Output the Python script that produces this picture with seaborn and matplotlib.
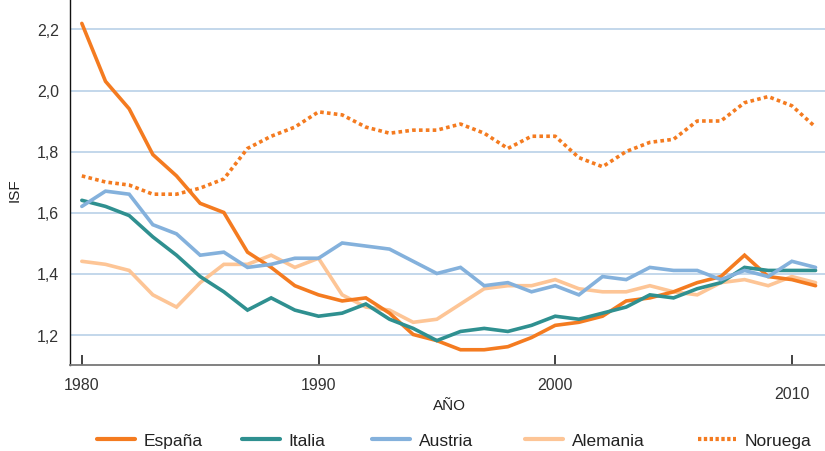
import numpy as np
import pandas as pd
import matplotlib
matplotlib.use("Agg")
import matplotlib.pyplot as plt
import matplotlib.transforms as mtransforms
from matplotlib.lines import Line2D
from matplotlib.ticker import FuncFormatter
import seaborn as sns

years = list(range(1980, 2012))
espana = [2.22, 2.03, 1.94, 1.79, 1.72, 1.63, 1.60, 1.47, 1.42, 1.36, 1.33, 1.31, 1.32, 1.27, 1.20, 1.18,
          1.15, 1.15, 1.16, 1.19, 1.23, 1.24, 1.26, 1.31, 1.32, 1.34, 1.37, 1.39, 1.46, 1.39, 1.38, 1.36]
italia = [1.64, 1.62, 1.59, 1.52, 1.46, 1.39, 1.34, 1.28, 1.32, 1.28, 1.26, 1.27, 1.30, 1.25, 1.22, 1.18,
          1.21, 1.22, 1.21, 1.23, 1.26, 1.25, 1.27, 1.29, 1.33, 1.32, 1.35, 1.37, 1.42, 1.41, 1.41, 1.41]
austria = [1.62, 1.67, 1.66, 1.56, 1.53, 1.46, 1.47, 1.42, 1.43, 1.45, 1.45, 1.50, 1.49, 1.48, 1.44, 1.40,
           1.42, 1.36, 1.37, 1.34, 1.36, 1.33, 1.39, 1.38, 1.42, 1.41, 1.41, 1.38, 1.41, 1.39, 1.44, 1.42]
alemania = [1.44, 1.43, 1.41, 1.33, 1.29, 1.37, 1.43, 1.43, 1.46, 1.42, 1.45, 1.33, 1.29, 1.28, 1.24, 1.25,
            1.30, 1.35, 1.36, 1.36, 1.38, 1.35, 1.34, 1.34, 1.36, 1.34, 1.33, 1.37, 1.38, 1.36, 1.39, 1.37]
noruega = [1.72, 1.70, 1.69, 1.66, 1.66, 1.68, 1.71, 1.81, 1.85, 1.88, 1.93, 1.92, 1.88, 1.86, 1.87, 1.87,
           1.89, 1.86, 1.81, 1.85, 1.85, 1.78, 1.75, 1.80, 1.83, 1.84, 1.90, 1.90, 1.96, 1.98, 1.95, 1.88]

countries = ["España", "Italia", "Austria", "Alemania", "Noruega"]
series = [espana, italia, austria, alemania, noruega]
colors = {"España": "#F47B20", "Italia": "#2F9090", "Austria": "#84B1DC",
          "Alemania": "#FDC596", "Noruega": "#F47B20"}
dashes = {"España": "", "Italia": "", "Austria": "", "Alemania": "", "Noruega": (1.0, 0.9)}

df = pd.concat([pd.DataFrame({"AÑO": years, "ISF": s, "País": c}) for c, s in zip(countries, series)],
               ignore_index=True)

sns.set_theme(style="white")
plt.rcParams["font.family"] = ["Liberation Sans", "DejaVu Sans"]

fig = plt.figure(figsize=(8.25, 4.52), dpi=100)
ax = fig.add_axes([70 / 825, 1 - 366 / 452, 1 - 70 / 825, 366 / 452])

for c in countries:
    sub = df[df["País"] == c]
    sns.lineplot(data=sub, x="AÑO", y="ISF", color=colors[c], linewidth=2.6, ax=ax,
                 dashes=False, legend=False, zorder=3 if c != "Alemania" else 2.5)
    ln = ax.get_lines()[-1]
    if c == "Noruega":
        ln.set_dashes(dashes[c])
        ln.set_dash_capstyle("butt")
    ln.set_solid_joinstyle("miter")

ax.set_xlim(1979.5, 2011.4)
ax.set_ylim(1.1, 2.3)
ax.set_yticks([1.2, 1.4, 1.6, 1.8, 2.0, 2.2])
ax.yaxis.set_major_formatter(FuncFormatter(lambda v, p: f"{v:.1f}".replace(".", ",")))
ax.set_xticks([1980, 1990, 2000, 2010])
ax.grid(axis="y", color="#B9D1E8", linewidth=1.2, zorder=0)
ax.grid(axis="x", visible=False)
ax.set_axisbelow(True)

for s in ["top", "right"]:
    ax.spines[s].set_visible(False)
ax.spines["left"].set_color("#111111")
ax.spines["left"].set_linewidth(1.0)
ax.spines["bottom"].set_color("#777777")
ax.spines["bottom"].set_linewidth(1.3)

ax.tick_params(axis="x", direction="in", length=7, width=1.2, color="#222222",
               labelsize=11.5, labelcolor="#333333", pad=9, bottom=True)
ax.tick_params(axis="y", length=0, labelsize=11.5, labelcolor="#333333", pad=8, left=False)

ax.set_xlabel("AÑO", fontsize=11, color="#222222")
ax.xaxis.set_label_coords(0.503, -0.09)
ax.set_ylabel("ISF", fontsize=11, color="#222222")
ax.yaxis.set_label_coords(-0.064, 0.48)

# 2010 label sits a little lower in the reference
lab = ax.get_xticklabels()[3]
lab.set_transform(lab.get_transform() + mtransforms.ScaledTranslation(0, -6 / 72, fig.dpi_scale_trans))

# legend: one entry per small legend, placed like the reference
starts = [97, 242, 372, 525, 698]
for c, x0 in zip(countries, starts):
    h = Line2D([0], [0], color=colors[c], linewidth=3)
    if c == "Noruega":
        h.set_dashes((0.8, 0.6))
        h.set_dash_capstyle("butt")
    leg = fig.legend([h], [c], loc="center left", bbox_to_anchor=(x0 / 825, 1 - 441 / 452),
                     frameon=False, fontsize=12.5, handlelength=2.2, handletextpad=0.5,
                     borderpad=0, borderaxespad=0)
    for t in leg.get_texts():
        t.set_color("#222222")

fig.savefig("out.png", dpi=100)
